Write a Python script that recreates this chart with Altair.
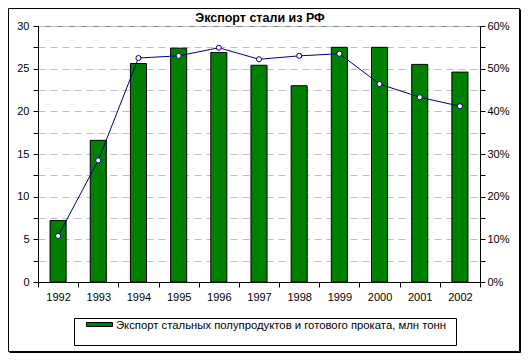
import altair as alt
import pandas as pd

YEARS = ["1992", "1993", "1994", "1995", "1996", "1997", "1998", "1999", "2000", "2001", "2002"]
EXPORT = [7.2, 16.6, 25.6, 27.4, 26.9, 25.4, 23.0, 27.5, 27.5, 25.5, 24.6]
SHARE = [10.8, 28.5, 52.5, 53.0, 54.9, 52.2, 53.0, 53.5, 46.4, 43.3, 41.2]
TITLE = "Экспорт стали из РФ"
LEGEND_LABEL = "Экспорт стальных полупродуктов и готового проката, млн тонн"
LEFT_TICKS = [0, 2.5, 5, 7.5, 10, 12.5, 15, 17.5, 20, 22.5, 25, 27.5, 30]
RIGHT_TICKS = [0, 5, 10, 15, 20, 25, 30, 35, 40, 45, 50, 55, 60]

FONT = "Liberation Sans"
GREEN = "#008000"
NAVY = "#000080"

df = pd.DataFrame({"year": YEARS, "export": EXPORT, "share": SHARE})
base = alt.Chart(df)

x = alt.X(
    "year:O",
    sort=YEARS,
    scale=alt.Scale(paddingInner=0, paddingOuter=0),
    axis=alt.Axis(title=None, tickBand="extent", labelAngle=0, labelPadding=4),
)

bars = base.mark_bar(
    color=GREEN, stroke="black", strokeWidth=1, width=alt.RelativeBandSize(0.4)
).encode(
    x=x,
    y=alt.Y(
        "export:Q",
        scale=alt.Scale(domain=[0, 30], nice=False, zero=True),
        axis=alt.Axis(
            values=LEFT_TICKS,
            labelExpr="datum.value % 5 == 0 ? datum.label : ''",
            grid=True,
            gridDash=[7, 5],
            gridColor="#bdbdbd",
            title=None,
            orient="left",
            labelPadding=4,
        ),
    ),
)

yr = alt.Y(
    "share:Q",
    scale=alt.Scale(domain=[0, 60], nice=False, zero=True),
    axis=alt.Axis(
        values=RIGHT_TICKS,
        labelExpr="datum.value % 10 == 0 ? datum.value + '%' : ''",
        orient="right",
        grid=False,
        title=None,
        labelPadding=2,
    ),
)

line = base.mark_line(color=NAVY, strokeWidth=1).encode(x=x, y=yr)
points = base.mark_circle(
    color="white", stroke=NAVY, strokeWidth=1, opacity=1, size=26
).encode(x=x, y=yr)

one = alt.Data(values=[{}])

frame = alt.Chart(one).mark_rect(fill="transparent", stroke="black", strokeWidth=1).encode(
    x=alt.value(-29.5), x2=alt.value(481.5), y=alt.value(-17.5), y2=alt.value(325.5)
)
shadow_r = alt.Chart(one).mark_rule(color="black", strokeWidth=1).encode(
    x=alt.value(482.5), y=alt.value(-16.5), y2=alt.value(326.5)
)
shadow_b = alt.Chart(one).mark_rule(color="black", strokeWidth=1).encode(
    y=alt.value(326.5), x=alt.value(-28.5), x2=alt.value(482.5)
)

title = alt.Chart(one).mark_text(
    text=TITLE, font=FONT, fontSize=12.5, fontWeight="bold", align="center", baseline="alphabetic", color="black"
).encode(x=alt.value(222), y=alt.value(-4.5))

legend_box = alt.Chart(one).mark_rect(fill="white", stroke="black", strokeWidth=1).encode(
    x=alt.value(36.5), x2=alt.value(418.5), y=alt.value(292.5), y2=alt.value(319.5)
)
legend_sym = alt.Chart(one).mark_rect(fill=GREEN, stroke="black", strokeWidth=1).encode(
    x=alt.value(48.5), x2=alt.value(74.5), y=alt.value(296.5), y2=alt.value(300.5)
)
legend_txt = alt.Chart(one).mark_text(
    text=LEGEND_LABEL, font=FONT, fontSize=11.3, align="left", baseline="alphabetic", color="black"
).encode(x=alt.value(78), y=alt.value(302.5))

chart = (
    alt.layer(
        bars,
        alt.layer(line, points),
        frame, shadow_r, shadow_b, title, legend_box, legend_sym, legend_txt,
    )
    .resolve_scale(y="independent")
    .properties(
        width=442,
        height=256,
        autosize=alt.AutoSizeParams(type="none"),
        padding={"left": 30, "top": 18, "right": 41, "bottom": 71},
    )
    .configure_view(stroke="#808080", strokeWidth=1)
    .configure_axis(
        labelFont=FONT,
        labelFontSize=11,
        labelColor="black",
        tickColor="black",
        tickSize=5,
        tickWidth=1,
        domainColor="black",
        domainWidth=1,
    )
)

chart.save("out.html", embed_options={"renderer": "svg", "actions": False})
